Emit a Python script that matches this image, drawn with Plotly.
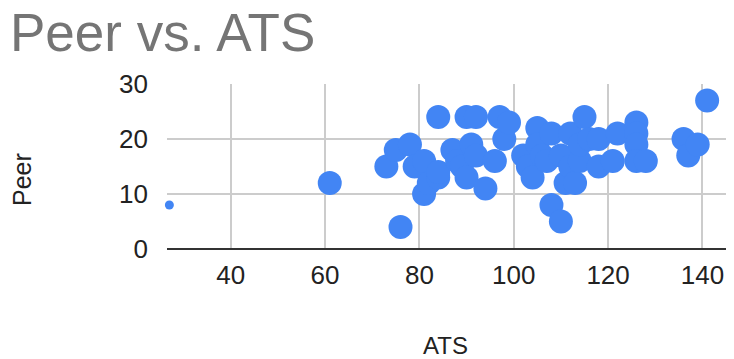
import plotly.graph_objects as go

# ATS vs. Peer scores
ats = [61, 73, 75, 76, 78, 79, 81, 81, 82, 84, 84, 84, 87, 88, 89, 90, 90, 91, 92, 92,
       94, 96, 97, 98, 99, 102, 103, 104, 105, 105, 106, 107, 108, 108, 110, 110, 111,
       112, 112, 113, 114, 114, 115, 116, 118, 118, 121, 122, 126, 126, 126, 126, 128,
       136, 137, 139, 141]
peer = [12, 15, 18, 4, 19, 15, 16, 10, 12, 13, 14, 24, 18, 16, 15, 24, 13, 19, 24, 17,
        11, 16, 24, 20, 23, 17, 15, 13, 22, 19, 17, 16, 8, 21, 17, 5, 12,
        21, 15, 12, 16, 19, 24, 20, 15, 20, 16, 21, 23, 21, 19, 16, 16,
        20, 17, 19, 27]

# one low outlier drawn with a small marker
ats_low = [27]
peer_low = [8]

x_ticks = [40, 60, 80, 100, 120, 140]
y_ticks = [0, 10, 20, 30]

blue = "#4285F4"
font = "Liberation Sans, Arial, sans-serif"

fig = go.Figure()
fig.add_trace(go.Scatter(x=ats, y=peer, mode="markers",
                         marker=dict(color=blue, size=24, line=dict(width=0)),
                         showlegend=False, cliponaxis=False))
fig.add_trace(go.Scatter(x=ats_low, y=peer_low, mode="markers",
                         marker=dict(color=blue, size=9, line=dict(width=0)),
                         showlegend=False, cliponaxis=False))

fig.update_layout(
    width=734, height=359,
    margin=dict(l=167, r=8, t=84, b=110),
    paper_bgcolor="white", plot_bgcolor="white",
    font=dict(family=font, color="#222222", size=25),
    title=dict(text="Peer vs. ATS", x=10 / 734, xanchor="left",
               xref="container", yref="container", y=1 - 32 / 359, yanchor="middle",
               font=dict(family=font, size=53, color="#757575")),
    xaxis=dict(range=[26.5, 145], tickvals=x_ticks, showgrid=True,
               gridcolor="#cccccc", gridwidth=2, zeroline=False, showline=False,
               ticks="", ticklabelstandoff=8, tickfont=dict(size=26, color="#222222")),
    yaxis=dict(range=[0, 30], tickvals=y_ticks, showgrid=True,
               gridcolor="#cccccc", gridwidth=2, zeroline=True, zerolinecolor="#333333",
               zerolinewidth=2, showline=False, ticks="", ticklabelstandoff=18,
               tickfont=dict(size=26, color="#222222")),
    annotations=[
        dict(text="ATS", xref="paper", yref="paper", x=(445 - 167) / 559,
             y=(249 - 345) / 165, showarrow=False, xanchor="center", yanchor="middle",
             font=dict(family=font, size=24, color="#222222")),
        dict(text="Peer", xref="paper", yref="paper", x=(22 - 167) / 559,
             y=(249 - 180) / 165, showarrow=False, textangle=-90,
             xanchor="center", yanchor="middle",
             font=dict(family=font, size=25, color="#222222")),
    ],
)

fig.write_html("out.html")
